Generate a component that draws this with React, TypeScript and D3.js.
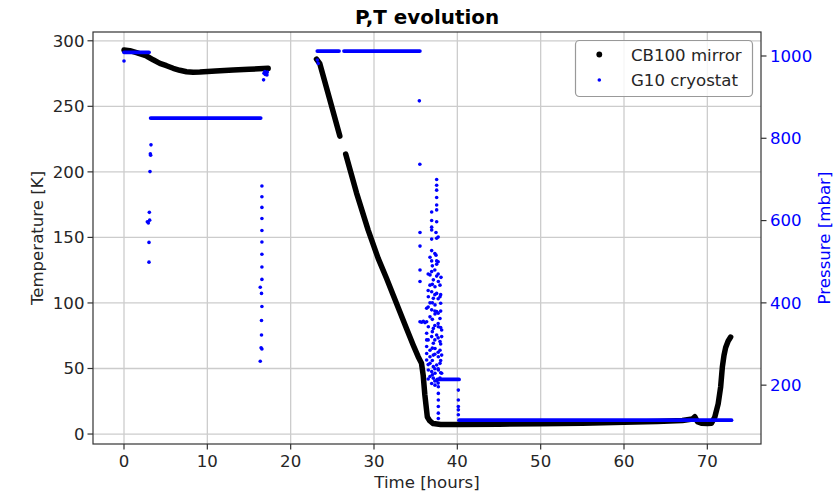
import React from 'react';
import * as d3 from 'd3';

const W = 835;
const H = 495;
const FONT = 'DejaVu Sans, sans-serif';

// ---- Temperature (CB100 mirror): [hours], [K]
const tempSeg1Hours = [0, 0.7, 1.5, 2.7, 3.5, 4.3, 5.1, 5.9, 6.7, 7.5, 8.3, 9.1, 11, 13.1, 15, 17.3];
const tempSeg1K = [293, 292.5, 291, 288.4, 285.5, 282.8, 281, 279, 277.5, 276.4, 276, 276.2, 277, 277.7, 278.3, 279];
const tempSeg2Hours = [23.1, 23.5, 24.7, 25.9];
const tempSeg2K = [286, 282.5, 255, 227.3];
const tempSeg3Hours = [26.6, 27.9, 29.3, 30.5, 31.5, 32.3, 33.1, 33.9, 34.7, 35.3, 35.7, 35.9, 36.1, 36.4, 36.7, 37.1, 38, 40, 45, 50, 55, 60, 64, 67, 68.2, 68.5, 68.8, 69.3, 70.0, 70.5, 70.9, 71.3, 71.6, 71.8, 72.0, 72.2, 72.5, 72.8];
const tempSeg3K = [213.6, 184, 155.6, 134, 118.8, 106, 93.3, 80.5, 67.9, 59, 54, 45, 30, 13, 10, 8, 7.3, 7.3, 7.5, 7.8, 8.3, 8.9, 9.5, 10.3, 11.5, 13.2, 9.5, 8.2, 8, 8.3, 13, 23, 36, 51, 60, 66, 71, 74];

// ---- Pressure (G10 cryostat): dense plateaus [start h], [end h], [mbar]
const bandStartHours = [0, 3.2, 23.2, 26.4, 37.6, 40.2];
const bandEndHours = [3.0, 16.4, 25.8, 35.5, 40.2, 72.9];
const bandMbar = [1009, 849, 1012, 1012, 214, 115];

// ---- Pressure scattered readings [hours], [mbar]
const scatterHours = [
  0.0,
  3.24, 3.2, 3.16, 3.12, 3.04, 3.08, 2.8, 2.92, 3.0, 3.0,
  16.55, 16.55, 16.55, 16.55, 16.55, 16.55, 16.55, 16.55, 16.55, 16.35, 16.5, 16.55, 16.5, 16.5, 16.45, 16.55, 16.35,
  16.75, 16.8, 16.9, 17.0, 17.1, 17.2, 17.15, 16.95,
  23.3, 23.2,
  35.44, 35.5,
  37.52, 37.52, 37.52, 37.52, 37.52, 37.52, 36.92, 37.52, 35.52, 36.92, 37.44, 36.92, 37.52, 35.52, 36.92, 37.44,
  36.72, 36.92, 37.52, 37.52, 35.52, 36.92, 36.72, 37.52, 38.04, 35.52, 37.12, 37.72, 36.72, 37.32, 37.92,
  36.92, 37.52, 36.52, 37.12, 37.92, 36.72, 37.32, 38.0, 36.32, 36.92, 37.52,
  35.52, 35.72, 35.92, 36.12, 36.32,
  36.72, 37.32, 37.92, 36.52, 37.12, 37.72, 38.12, 36.32, 36.92, 37.52, 38.12, 36.32, 37.12, 37.92,
  36.32, 36.72, 37.32, 37.92, 36.32, 36.72, 37.12, 37.72, 38.12, 36.32, 36.72, 37.12, 37.52, 37.92,
  36.52, 36.92, 37.32, 37.72, 38.12, 36.72, 37.12, 37.52, 37.92, 36.92, 37.32, 37.72,
  36.92, 36.92,
  37.72, 37.72, 37.72, 37.72, 37.72,
  40.12, 40.12, 40.12, 40.12, 40.12,
  36.5, 36.5, 36.5, 36.5, 36.5, 36.5,
  37.0, 37.0, 37.0, 37.0, 37.0, 37.0, 37.0, 37.0,
  37.3, 37.3, 37.3, 37.3, 37.3, 37.3, 37.3, 37.3, 37.3,
  37.7, 37.7, 37.7, 37.7, 37.7, 37.7, 37.7, 37.7, 37.7, 37.7,
  38.0, 38.0, 38.0, 38.0, 38.0, 38.0,
];
const scatterMbar = [
  988,
  784, 759, 762, 719, 620, 601, 597, 594, 547, 499,
  684, 658, 632, 605, 576, 548, 518, 487, 457, 438, 423, 391, 357, 322, 291, 288, 258,
  942, 958, 962, 960, 957, 961, 954, 955,
  982, 990,
  891, 737,
  700, 686, 674, 656, 638, 626, 600, 597, 571, 584, 571, 555, 557, 538, 527, 516,
  511, 502, 502, 494, 480, 476, 468, 465, 462, 452, 456, 452, 443, 439, 443,
  427, 423, 415, 411, 415, 400, 395, 399, 387, 383, 379,
  354, 353, 355, 352, 354,
  366, 373, 362, 342, 338, 342, 334, 326, 318, 322, 318, 310, 302, 306,
  294, 285, 289, 285, 277, 269, 273, 269, 273, 261, 253, 245, 249, 253,
  237, 233, 229, 237, 229, 221, 217, 211, 217, 204, 200, 196,
  621, 577,
  180, 164, 148, 132, 119,
  188, 164, 148, 128, 140,
  470, 430, 390, 310, 250, 215,
  490, 445, 400, 360, 330, 290, 260, 225,
  520, 480, 420, 380, 345, 310, 275, 240, 210,
  560, 500, 470, 410, 375, 350, 315, 280, 240, 205,
  420, 380, 340, 300, 260, 230,
];

const hourTicks = [0, 10, 20, 30, 40, 50, 60, 70];
const tempTicks = [0, 50, 100, 150, 200, 250, 300];
const pressureTicks = [200, 400, 600, 800, 1000];

const legendLabels = ['CB100 mirror', 'G10 cryostat'];

const L = 93, R = 761, T = 32, B = 444;

export default function App() {
  const x = d3.scaleLinear().domain([-3.72, 76.44]).range([L, R]);
  const yT = d3.scaleLinear().domain([-7.6, 306.7]).range([B, T]);
  const yP = d3.scaleLinear().domain([57, 1058.3]).range([B, T]);

  const tLine = d3.line<[number, number]>().x(d => x(d[0])).y(d => yT(d[1]));
  const zip = (a: number[], b: number[]) => a.map((v, i) => [v, b[i]] as [number, number]);
  const tempSegs = [
    zip(tempSeg1Hours, tempSeg1K),
    zip(tempSeg2Hours, tempSeg2K),
    zip(tempSeg3Hours, tempSeg3K),
  ];

  const gridColor = '#cccccc';
  const axisColor = '#333333';
  const textColor = '#262626';
  const blue = '#0000ff';

  return (
    <svg width={W} height={H} style={{ position: 'absolute', left: 0, top: 0, background: '#fff' }} fontFamily={FONT}>
      <rect x={0} y={0} width={W} height={H} fill="#fff" />
      {/* grid */}
      {hourTicks.map(h => (
        <line key={'gx' + h} x1={x(h)} x2={x(h)} y1={T} y2={B} stroke={gridColor} strokeWidth={1.3} />
      ))}
      {tempTicks.map(v => (
        <line key={'gy' + v} x1={L} x2={R} y1={yT(v)} y2={yT(v)} stroke={gridColor} strokeWidth={1.3} />
      ))}

      {/* temperature */}
      {tempSegs.map((seg, i) => (
        <path key={'t' + i} d={tLine(seg) || ''} fill="none" stroke="#000" strokeWidth={5.5}
          strokeLinecap="round" strokeLinejoin="round" />
      ))}

      {/* pressure bands */}
      {bandStartHours.map((s, i) => (
        <line key={'b' + i} x1={x(s)} x2={x(bandEndHours[i])} y1={yP(bandMbar[i])} y2={yP(bandMbar[i])}
          stroke={blue} strokeWidth={3.8} strokeLinecap="round" />
      ))}
      {/* pressure scatter */}
      {scatterHours.map((h, i) => (
        <circle key={'p' + i} cx={x(h)} cy={yP(scatterMbar[i])} r={1.8} fill={blue} />
      ))}

      {/* spines */}
      <rect x={L} y={T} width={R - L} height={B - T} fill="none" stroke={axisColor} strokeWidth={1.2} />

      {/* x ticks */}
      {hourTicks.map(h => (
        <g key={'xt' + h}>
          <line x1={x(h)} x2={x(h)} y1={B} y2={B + 5.5} stroke={axisColor} strokeWidth={1.2} />
          <text x={x(h)} y={466.5} textAnchor="middle" fontSize={16.6} fill={textColor}>{h}</text>
        </g>
      ))}
      {/* left y ticks */}
      {tempTicks.map(v => (
        <g key={'yt' + v}>
          <line x1={L - 5.5} x2={L} y1={yT(v)} y2={yT(v)} stroke={axisColor} strokeWidth={1.2} />
          <text x={L - 8.5} y={yT(v) + 5.9} textAnchor="end" fontSize={16.6} fill={textColor}>{v}</text>
        </g>
      ))}
      {/* right y ticks */}
      {pressureTicks.map(v => (
        <g key={'pt' + v}>
          <line x1={R} x2={R + 5.5} y1={yP(v)} y2={yP(v)} stroke={axisColor} strokeWidth={1.2} />
          <text x={R + 9} y={yP(v) + 5.9} textAnchor="start" fontSize={16.6} fill={blue}>{v}</text>
        </g>
      ))}

      {/* labels */}
      <text x={427} y={24} textAnchor="middle" fontSize={19.9} fontWeight="bold" fill="#000">P,T evolution</text>
      <text x={(L + R) / 2} y={487.5} textAnchor="middle" fontSize={16.6} fill={textColor}>Time [hours]</text>
      <text transform={`translate(42.5,${(T + B) / 2}) rotate(-90)`} textAnchor="middle" fontSize={16.6} fill={textColor}>Temperature [K]</text>
      <text transform={`translate(830,${(T + B) / 2}) rotate(-90)`} textAnchor="middle" fontSize={16.6} fill={blue}>Pressure [mbar]</text>

      {/* legend */}
      <rect x={575.5} y={40.5} width={177} height={56} rx={4} fill="#fff" fillOpacity={0.8} stroke="#999" strokeWidth={1.2} />
      <circle cx={599.3} cy={54.5} r={2.9} fill="#000" />
      <circle cx={599.3} cy={80} r={1.8} fill={blue} />
      <text x={631} y={60.5} fontSize={16.6} fill={textColor}>{legendLabels[0]}</text>
      <text x={631} y={85.8} fontSize={16.6} fill={textColor}>{legendLabels[1]}</text>
    </svg>
  );
}
